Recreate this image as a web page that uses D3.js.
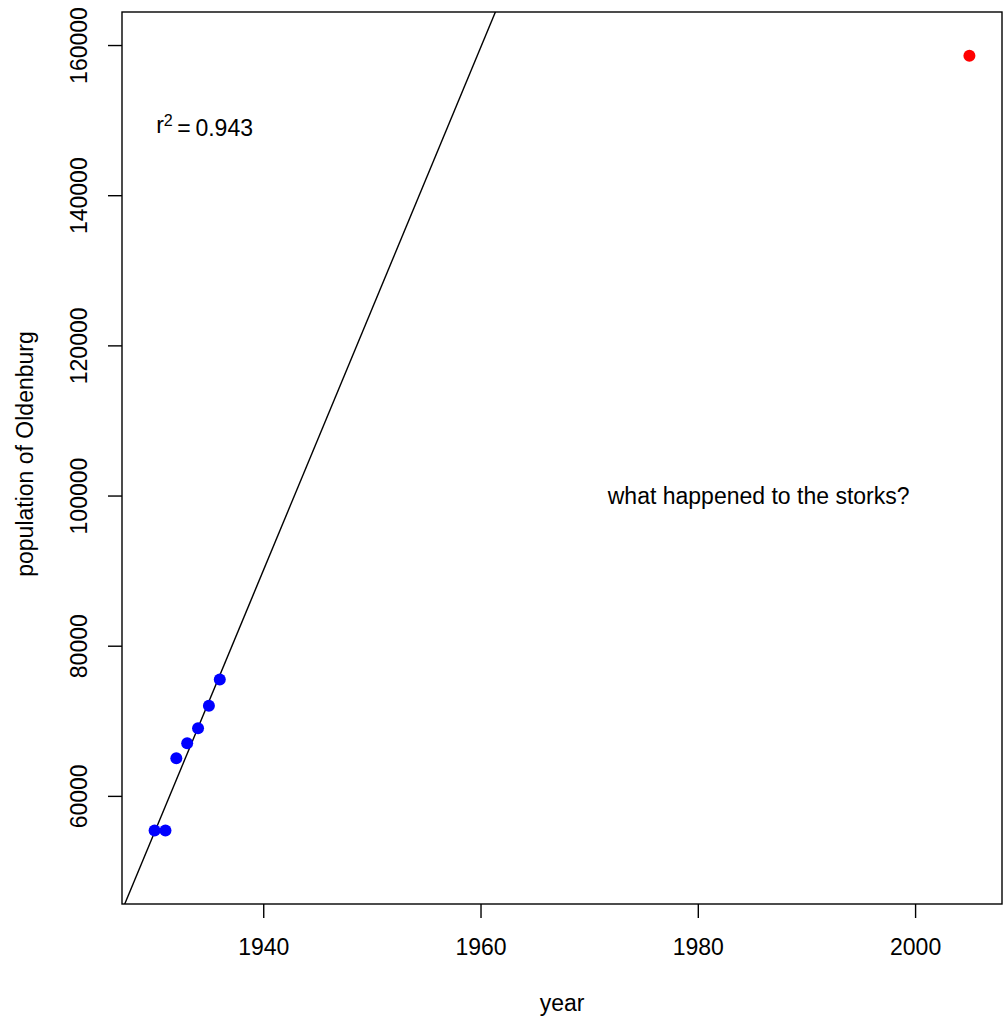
<!DOCTYPE html>
<html>
<head>
<meta charset="utf-8">
<script src="https://cdn.jsdelivr.net/npm/d3@7"></script>
<style>
  html, body { margin: 0; padding: 0; background: #fff; }
  svg { display: block; font-family: "Liberation Sans", Arial, Helvetica, sans-serif; }
</style>
</head>
<body>
<svg id="chart" width="1007" height="1021"></svg>
<script>
// Oldenburg population, 1930-1936 (stork era) and 2005
const years1930s = [1930, 1931, 1932, 1933, 1934, 1935, 1936];
const population1930s = [55400, 55400, 65000, 67000, 69000, 72000, 75500];
const yearsLater = [2005];
const populationLater = [158565];

const xTicks = [1940, 1960, 1980, 2000];
const yTicks = [60000, 80000, 100000, 120000, 140000, 160000];

const xDomain = [1927, 2008];
const yDomain = [45600, 164400];

const fitLabelValue = "0.943";
const noteText = "what happened to the storks?";

const svg = d3.select("#chart");
const plot = { left: 122, right: 1002, top: 12, bottom: 904 };
const fontSize = 23;

const x = d3.scaleLinear().domain(xDomain).range([plot.left, plot.right]);
const y = d3.scaleLinear().domain(yDomain).range([plot.bottom, plot.top]);

// clip region for the fitted line
svg.append("defs").append("clipPath").attr("id", "plotClip")
  .append("rect")
  .attr("x", plot.left).attr("y", plot.top)
  .attr("width", plot.right - plot.left).attr("height", plot.bottom - plot.top);

// least-squares fit through the 1930s points
const mx = d3.mean(years1930s), my = d3.mean(population1930s);
let sxy = 0, sxx = 0;
years1930s.forEach((yr, i) => {
  sxy += (yr - mx) * (population1930s[i] - my);
  sxx += (yr - mx) * (yr - mx);
});
const slope = sxy / sxx;
const intercept = my - slope * mx;
const fitLine = d3.line()
  .x(d => x(d))
  .y(d => y(intercept + slope * d));

svg.append("path")
  .datum(xDomain)
  .attr("d", fitLine)
  .attr("clip-path", "url(#plotClip)")
  .attr("fill", "none")
  .attr("stroke", "#000")
  .attr("stroke-width", 1.4);

// points
svg.append("g").selectAll("circle")
  .data(years1930s.map((yr, i) => [yr, population1930s[i]]))
  .join("circle")
  .attr("cx", d => x(d[0]))
  .attr("cy", d => y(d[1]))
  .attr("r", 6)
  .attr("fill", "#0000FF");

svg.append("g").selectAll("circle")
  .data(yearsLater.map((yr, i) => [yr, populationLater[i]]))
  .join("circle")
  .attr("cx", d => x(d[0]))
  .attr("cy", d => y(d[1]))
  .attr("r", 6)
  .attr("fill", "#FF0000");

// plot box
svg.append("rect")
  .attr("x", plot.left).attr("y", plot.top)
  .attr("width", plot.right - plot.left).attr("height", plot.bottom - plot.top)
  .attr("fill", "none").attr("stroke", "#000").attr("stroke-width", 1.4);

// x axis
const xAxis = svg.append("g")
  .attr("transform", `translate(0,${plot.bottom})`)
  .call(d3.axisBottom(x).tickValues(xTicks).tickSize(14).tickSizeOuter(0).tickFormat(d3.format("d")));
xAxis.select(".domain").remove();
xAxis.selectAll(".tick line").attr("stroke-width", 1.4);
xAxis.selectAll(".tick text")
  .attr("y", 51).attr("dy", 0)
  .attr("font-size", fontSize)
  .attr("font-family", "Liberation Sans, Arial, sans-serif")
  .attr("fill", "#000");

// y axis with rotated labels
const yAxis = svg.append("g")
  .attr("transform", `translate(${plot.left},0)`)
  .call(d3.axisLeft(y).tickValues(yTicks).tickSize(14).tickSizeOuter(0).tickFormat(d3.format("d")));
yAxis.select(".domain").remove();
yAxis.selectAll(".tick line").attr("stroke-width", 1.4);
yAxis.selectAll(".tick text")
  .attr("x", 0).attr("y", 0).attr("dy", 0)
  .attr("transform", "translate(-35,0) rotate(-90)")
  .attr("text-anchor", "middle")
  .attr("font-size", fontSize)
  .attr("font-family", "Liberation Sans, Arial, sans-serif")
  .attr("fill", "#000");

// axis titles
svg.append("text")
  .attr("x", (plot.left + plot.right) / 2).attr("y", 1011)
  .attr("text-anchor", "middle").attr("font-size", fontSize)
  .text("year");

svg.append("text")
  .attr("transform", `translate(33,${(plot.top + plot.bottom) / 2 - 4}) rotate(-90)`)
  .attr("text-anchor", "middle").attr("font-size", fontSize)
  .text("population of Oldenburg");

// r-squared annotation
const r2 = svg.append("text")
  .attr("x", x(1934.6)).attr("y", y(149400))
  .attr("dy", "0.36em")
  .attr("text-anchor", "middle").attr("font-size", fontSize);
r2.append("tspan").text("r");
r2.append("tspan").attr("dy", "-0.45em").attr("font-size", fontSize * 0.7).text("2");
r2.append("tspan").attr("dy", "0.45em").text("\u2009=\u20090" + fitLabelValue.slice(1));

// note
svg.append("text")
  .attr("x", x(1985.6)).attr("y", y(100000))
  .attr("dy", "0.36em")
  .attr("text-anchor", "middle").attr("font-size", fontSize)
  .text(noteText);
</script>
</body>
</html>
